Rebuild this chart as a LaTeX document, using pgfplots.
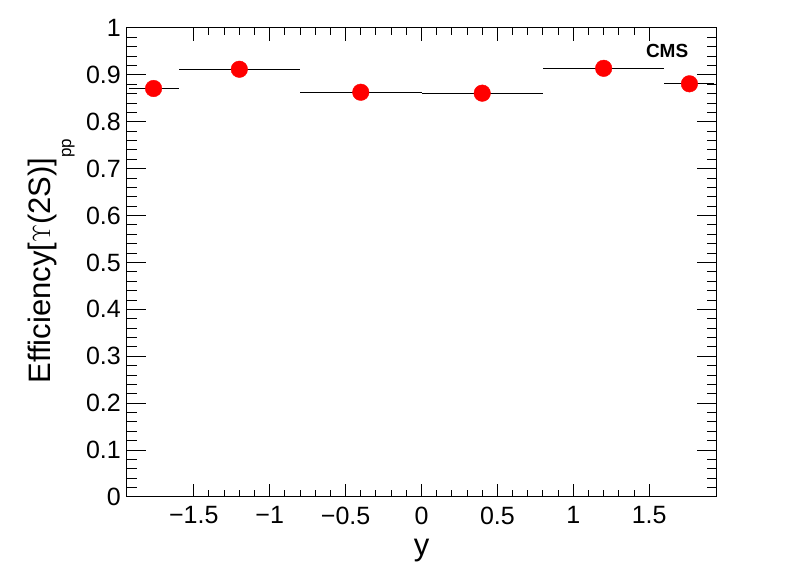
\documentclass[border=0pt]{standalone}
\usepackage{fontspec}
\setmainfont{Liberation Sans}
\usepackage{pgfplots}
\pgfplotsset{compat=1.18}
\begin{document}
\begin{tikzpicture}
\useasboundingbox (0,0) rectangle (796pt,572pt);
\begin{axis}[
  at={(127pt,75pt)}, anchor=south west,
  scale only axis, width=589pt, height=469pt,
  xmin=-1.94, xmax=1.94, ymin=0, ymax=1,
  axis line style={black, line width=1pt},
  tick pos=both, tick align=inside,
  xtick={-1.5,-1,-0.5,0,0.5,1,1.5},
  xticklabels={−1.5,−1,−0.5,0,0.5,1,1.5},
  ytick={0,0.1,0.2,0.3,0.4,0.5,0.6,0.7,0.8,0.9,1},
  yticklabels={0,0.1,0.2,0.3,0.4,0.5,0.6,0.7,0.8,0.9,1},
  minor x tick num=4, minor y tick num=4,
  every tick/.style={black, line width=1pt},
  xtick style={/pgfplots/major tick length=13pt, /pgfplots/minor tick length=6.7pt},
  ytick style={/pgfplots/major tick length=19pt, /pgfplots/minor tick length=9.5pt},
  ticklabel style={font=\fontsize{25}{30}\selectfont},
  xticklabel style={anchor=north, inner sep=0pt, yshift=-9.5pt},
  yticklabel style={anchor=east, inner sep=0pt, xshift=-6pt},
  xlabel={y},
  ylabel={Efficiency[$\Upsilon$(2S)]\raisebox{-21pt}{\fontsize{17}{17}\selectfont pp}},
  every axis x label/.style={at={(axis description cs:0.5,-0.1237)}, anchor=base, font=\fontsize{31}{36}\selectfont},
  every axis y label/.style={at={(axis description cs:-0.1307,0.503)}, rotate=90, anchor=base, font=\fontsize{31}{36}\selectfont},
  clip=true,
]
\addplot[only marks, mark=*, mark size=8.3pt, color=red, mark options={fill=red, draw=red},
  error bars/.cd, x dir=both, x explicit, error mark=none,
  error bar style={black, line width=1pt}]
coordinates {
(-1.765,0.871) +- (0.165,0)
(-1.2,0.912) +- (0.4,0)
(-0.4,0.863) +- (0.4,0)
(0.4,0.861) +- (0.4,0)
(1.2,0.914) +- (0.4,0)
(1.765,0.881) +- (0.165,0)
};
\node[font=\bfseries\fontsize{19}{22}\selectfont, anchor=center] at (rel axis cs:0.917,0.950) {CMS};
\end{axis}
\end{tikzpicture}
\end{document}
